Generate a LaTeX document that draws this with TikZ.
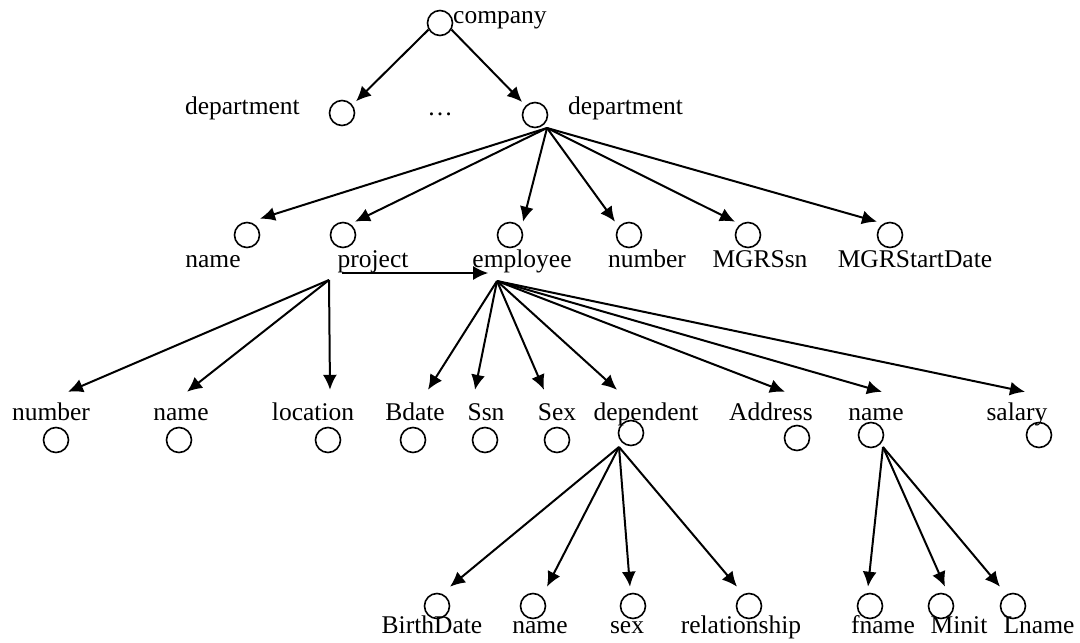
\documentclass[tikz,border=0pt]{standalone}
\usepackage{fontspec}
\setmainfont{Liberation Serif}
\usepackage{tikz}
\usetikzlibrary{arrows.meta}

\begin{document}
\begin{tikzpicture}[
    x=1pt, y=-1pt,
    >={Latex[length=15pt, width=14pt]},
    elem/.style={circle, draw, line width=1.6pt, minimum size=25pt, inner sep=0pt},
    lbl/.style={font=\fontsize{25.5}{30}\selectfont, inner sep=0pt, text height=18pt, text depth=6pt, anchor=base},
    every edge/.append style={line width=2pt}
]
   \useasboundingbox (0,0) rectangle (1080,643);

   % Company and departments
   \node[elem] (co) at (440,23) {};
   \node[lbl, anchor=base west] (co-l) at (453,23) {company};
   \node[elem] (d1) at (342,113) {};
   \node[lbl, anchor=base east] (d1-l) at (300,114) {department};
   \node[lbl] (dots) at (440,115) {…};
   \node[elem] (d2) at (535,115) {};
   \node[lbl, anchor=base west] (d2-l) at (568,114) {department};

   % Department attributes
   \node[elem] (nm2) at (247,235) {};
   \node[elem] (pj) at (343,235) {};
   \node[elem] (em) at (510,235) {};
   \node[elem] (nu2) at (629,235) {};
   \node[elem] (ms) at (748,235) {};
   \node[elem] (msd) at (890,235) {};
   \node[lbl] (nm2-l) at (213,267) {name};
   \node[lbl] (pj-l) at (373,267) {project};
   \node[lbl] (em-l) at (522,267) {employee};
   \node[lbl] (nu2-l) at (647,267) {number};
   \node[lbl] (ms-l) at (760,267) {MGRSsn};
   \node[lbl] (msd-l) at (915,267) {MGRStartDate};

   % Project attributes
   \node[elem] (pn) at (56,440) {};
   \node[elem] (pnm) at (179,440) {};
   \node[elem] (pl) at (328,440) {};
   \node[lbl] (pn-l) at (51,420) {number};
   \node[lbl] (pnm-l) at (181,420) {name};
   \node[lbl] (pl-l) at (313,420) {location};

   % Employee attributes
   \node[elem] (bd) at (413,440) {};
   \node[elem] (ssn) at (485,440) {};
   \node[elem] (sx) at (557,440) {};
   \node[elem] (dp) at (631,433) {};
   \node[elem] (ad) at (797,438) {};
   \node[elem] (en) at (871,435) {};
   \node[elem] (sal) at (1039,435) {};
   \node[lbl] (bd-l) at (415,420) {Bdate};
   \node[lbl] (ssn-l) at (486,420) {Ssn};
   \node[lbl] (sx-l) at (557,420) {Sex};
   \node[lbl] (dp-l) at (646,420) {dependent};
   \node[lbl] (ad-l) at (771,420) {Address};
   \node[lbl] (en-l) at (876,420) {name};
   \node[lbl] (sal-l) at (1017,420) {salary};

   % Dependent and name parts
   \node[elem] (bt) at (437,606) {};
   \node[elem] (dn) at (533,606) {};
   \node[elem] (ds) at (633,606) {};
   \node[elem] (rl) at (749,606) {};
   \node[elem] (fn) at (870,606) {};
   \node[elem] (mi) at (941,606) {};
   \node[elem] (ln) at (1013,606) {};
   \node[lbl] (bt-l) at (432,633) {BirthDate};
   \node[lbl] (dn-l) at (540,633) {name};
   \node[lbl] (ds-l) at (627,633) {sex};
   \node[lbl] (rl-l) at (741,633) {relationship};
   \node[lbl] (fn-l) at (883,633) {fname};
   \node[lbl] (mi-l) at (959,633) {Minit};
   \node[lbl] (ln-l) at (1039,633) {Lname};

   % Fan points
   \coordinate (df) at (547,128);
   \coordinate (pf) at (329,280);
   \coordinate (ef) at (497,281);
   \coordinate (dpf) at (619,447);
   \coordinate (nf) at (883,447);

   % Arrows
   \path[->]
   (co.210) edge [shorten >=5pt] (d1.38)
   (co.-30) edge [shorten >=5pt] (d2.135)

   (df) edge ([xshift=13, yshift=3]nm2.north)
   (df) edge ([xshift=12]pj.north)
   (df) edge ([xshift=13]em.north)
   (df) edge ([xshift=-14]nu2.north)
   (df) edge ([xshift=-13]ms.north)
   (df) edge ([xshift=-13]msd.north)

   ([shift={(5,6)}]pj-l.base west) edge ([shift={(16,6)}]em-l.base west)

   (pf) edge ([xshift=17, yshift=10]pn-l.north)
   (pf) edge ([xshift=6, yshift=10]pnm-l.north)
   (pf) edge ([xshift=17, yshift=12]pl-l.north)

   (ef) edge ([xshift=13, yshift=12]bd-l.north)
   (ef) edge ([xshift=-11, yshift=12]ssn-l.north)
   (ef) edge ([xshift=-13, yshift=12]sx-l.north)
   (ef) edge ([xshift=-29, yshift=12]dp-l.north)
   (ef) edge ([xshift=14, yshift=10]ad-l.north)
   (ef) edge ([xshift=6, yshift=10]en-l.north)
   (ef) edge ([xshift=8, yshift=10]sal-l.north)

   (dpf) edge ([xshift=13, yshift=6]bt.north)
   (dpf) edge ([xshift=14, yshift=6]dn.north)
   (dpf) edge ([xshift=-3, yshift=6]ds.north)
   (dpf) edge ([xshift=-12, yshift=6]rl.north)

   (nf) edge ([xshift=-2, yshift=6]fn.north)
   (nf) edge ([xshift=4, yshift=6]mi.north)
   (nf) edge ([xshift=-13, yshift=6]ln.north);
\end{tikzpicture}
\end{document}
